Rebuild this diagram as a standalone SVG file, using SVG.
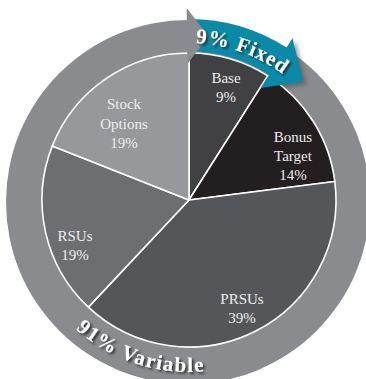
<svg xmlns="http://www.w3.org/2000/svg" width="366" height="379" viewBox="0 0 366 379">
  <style>
    .slice { stroke: #ffffff; stroke-width: 1.6; stroke-linejoin: round; }
    .lbl { font-family: "Liberation Serif", "Times New Roman", serif; font-size: 15px; fill: #ececec; text-anchor: middle; }
    .ring-lbl { font-family: "Liberation Serif", "Times New Roman", serif; font-size: 21px; font-weight: bold; fill: #ffffff; }
  </style>
  <defs>
    <filter id="txtShadow" x="-20%" y="-20%" width="140%" height="160%">
      <feGaussianBlur in="SourceAlpha" stdDeviation="1"/>
      <feOffset dx="1.5" dy="2" result="off"/>
      <feFlood flood-color="#1e1e1e" flood-opacity="0.8"/>
      <feComposite in2="off" operator="in" result="sh"/>
      <feMerge><feMergeNode in="sh"/><feMergeNode in="SourceGraphic"/></feMerge>
    </filter>
    <filter id="blurShadow" x="-30%" y="-30%" width="160%" height="160%">
      <feGaussianBlur stdDeviation="2"/>
    </filter>
    <path id="arcTop" d="M195.85,43.15 A157,157 0 0 1 324.97,121.5"/>
    <path id="arcBottom" d="M75.69,329.07 A171,171 0 0 0 274.5,349.09"/>
  </defs>

  <!-- outer ring (variable share) -->
  <g id="ring">
    <circle cx="188" cy="202" r="182" fill="#8a8b8e"/>
    <!-- soft shadow cast by the teal arrowhead -->
    <polygon points="295.5,41 306.3,84.7 263.7,91" fill="#4a4b4e" opacity="0.55" filter="url(#blurShadow)"/>
  </g>

  <!-- pie slices -->
  <g id="slice-base">
    <path class="slice" d="M189,200 L189,53 A147,147 0 0 1 267.77,75.89 Z" fill="#414143"/>
    <text class="lbl" x="226" y="83">Base</text>
    <text class="lbl" x="226" y="102">9%</text>
  </g>
  <g id="slice-bonus">
    <path class="slice" d="M189,200 L267.77,75.89 A147,147 0 0 1 334.84,181.58 Z" fill="#231f20"/>
    <text class="lbl" x="293" y="142">Bonus</text>
    <text class="lbl" x="293" y="161">Target</text>
    <text class="lbl" x="293" y="180">14%</text>
  </g>
  <g id="slice-prsus">
    <path class="slice" d="M189,200 L334.84,181.58 A147,147 0 0 1 88.37,307.16 Z" fill="#555659"/>
    <text class="lbl" x="242" y="304">PRSUs</text>
    <text class="lbl" x="242" y="323">39%</text>
  </g>
  <g id="slice-rsus">
    <path class="slice" d="M189,200 L88.37,307.16 A147,147 0 0 1 52.32,145.89 Z" fill="#6d6e71"/>
    <text class="lbl" x="75" y="241">RSUs</text>
    <text class="lbl" x="75" y="260">19%</text>
  </g>
  <g id="slice-options">
    <path class="slice" d="M189,200 L52.32,145.89 A147,147 0 0 1 189,53 Z" fill="#97989b"/>
    <text class="lbl" x="124" y="109">Stock</text>
    <text class="lbl" x="124" y="129">Options</text>
    <text class="lbl" x="124" y="148">19%</text>
  </g>

  <!-- ring arrows -->
  <g id="connectors">
    <path id="fixed-arrow" fill="#0b8aa8"
      d="M189,19 A181,181 0 0 1 286.52,47.51 L292.45,38.24 L303.28,81.67 L260.66,87.95 L269.01,74.89 A148.5,148.5 0 0 0 189,51.5 Z"/>
    <polygon id="variable-arrowhead" fill="#8a8b8e" points="186.65,8 208.54,36.16 187.34,64"/>
  </g>

  <!-- ring captions -->
  <g id="label-fixed" filter="url(#txtShadow)">
    <text class="ring-lbl" letter-spacing="0.9"><textPath href="#arcTop">9% Fixed</textPath></text>
  </g>
  <g id="label-variable" filter="url(#txtShadow)">
    <text class="ring-lbl" letter-spacing="1.4"><textPath href="#arcBottom">91% Variable</textPath></text>
  </g>
</svg>
